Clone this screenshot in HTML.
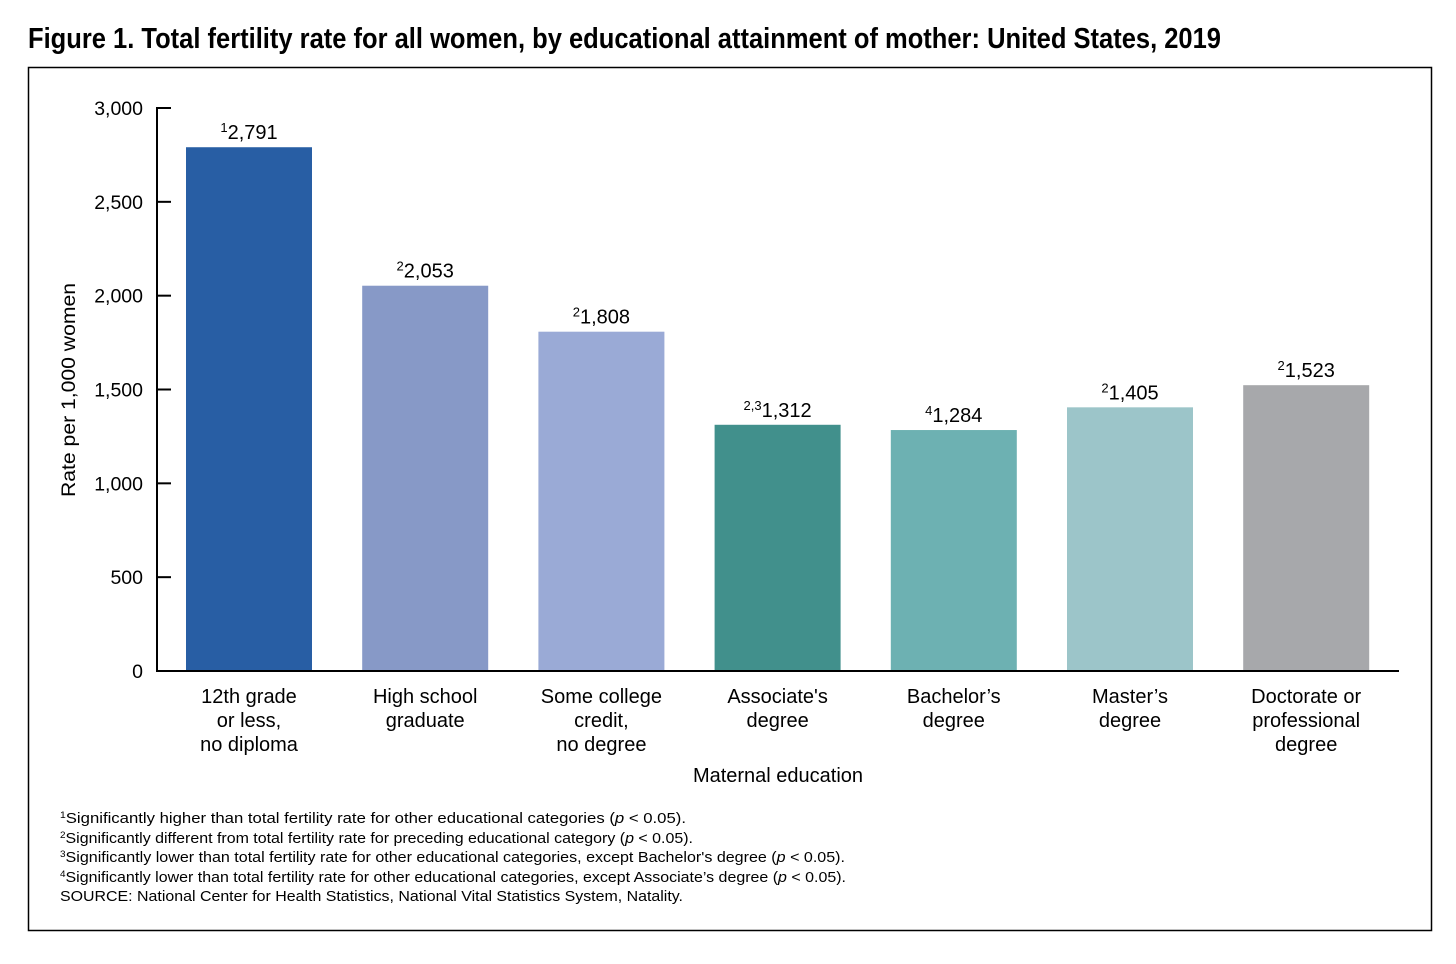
<!DOCTYPE html>
<html><head><meta charset="utf-8"><style>
body{margin:0;background:#fff;}
svg{display:block;font-family:"Liberation Sans",Arial,sans-serif;}
</style></head><body>
<svg id="chart" width="1456" height="964" viewBox="0 0 1456 964">
<text x="28" y="48" font-size="29" font-weight="bold" textLength="1193" lengthAdjust="spacingAndGlyphs">Figure 1. Total fertility rate for all women, by educational attainment of mother: United States, 2019</text>
<rect x="28.5" y="67.5" width="1403" height="863" fill="none" stroke="#000" stroke-width="1.5"/>
<g id="ticks"></g><g id="bars"></g>
<line x1="157" y1="107" x2="157" y2="672" stroke="#000" stroke-width="2"/>
<line x1="156" y1="671" x2="1399" y2="671" stroke="#000" stroke-width="2"/>
<text transform="translate(75,390) rotate(-90)" text-anchor="middle" font-size="19" textLength="214" lengthAdjust="spacingAndGlyphs">Rate per 1,000 women</text>
<text x="778" y="782" text-anchor="middle" font-size="20">Maternal education</text>
<g font-size="14.5" lengthAdjust="spacingAndGlyphs">
<text x="60" y="823" textLength="626" lengthAdjust="spacingAndGlyphs"><tspan font-size="9" dy="-5">1</tspan><tspan dy="5">Significantly higher than total fertility rate for other educational categories (</tspan><tspan font-style="italic">p</tspan> &lt; 0.05).</text>
<text x="60" y="843" textLength="633" lengthAdjust="spacingAndGlyphs"><tspan font-size="9" dy="-5">2</tspan><tspan dy="5">Significantly different from total fertility rate for preceding educational category (</tspan><tspan font-style="italic">p</tspan> &lt; 0.05).</text>
<text x="60" y="862" textLength="785" lengthAdjust="spacingAndGlyphs"><tspan font-size="9" dy="-5">3</tspan><tspan dy="5">Significantly lower than total fertility rate for other educational categories, except Bachelor's degree  (</tspan><tspan font-style="italic">p</tspan> &lt; 0.05).</text>
<text x="60" y="882" textLength="786" lengthAdjust="spacingAndGlyphs"><tspan font-size="9" dy="-5">4</tspan><tspan dy="5">Significantly lower than total fertility rate for other educational categories, except Associate’s degree (</tspan><tspan font-style="italic">p</tspan> &lt; 0.05).</text>
<text x="60" y="901" textLength="623" lengthAdjust="spacingAndGlyphs">SOURCE: National Center for Health Statistics, National Vital Statistics System, Natality.</text>
</g>
</svg>
<script>
const categories=[["12th grade","or less,","no diploma"],["High school","graduate"],["Some college","credit,","no degree"],["Associate's","degree"],["Bachelor’s","degree"],["Master’s","degree"],["Doctorate or","professional","degree"]];
const values=[2791,2053,1808,1312,1284,1405,1523];
const valueLabels=["2,791","2,053","1,808","1,312","1,284","1,405","1,523"];
const notes=["1","2","2","2,3","4","2","2"];
const tickValues=[0,500,1000,1500,2000,2500,3000];
const tickLabels=["0","500","1,000","1,500","2,000","2,500","3,000"];
const colors=["#285ea4","#8799c7","#9aaad6","#41908c","#6db1b2","#9cc5c9","#a7a8ab"];
const NS="http://www.w3.org/2000/svg";
const y=v=>671-v*563/3000;
const x=i=>186+i*176.2;
function mk(tag,attrs,parent){const e=document.createElementNS(NS,tag);for(const k in attrs)e.setAttribute(k,attrs[k]);parent.appendChild(e);return e;}
const tg=document.getElementById('ticks');
tickValues.forEach((v,i)=>{
 const l=mk('line',{x1:157,x2:171,y1:y(v),y2:y(v),stroke:'#000','stroke-width':2},tg);
 
 
 const t=mk('text',{x:143,y:y(v)+7,'text-anchor':'end','font-size':19.5},tg);
 t.textContent=tickLabels[i];
 
 
});
const bg=document.getElementById('bars');
values.forEach((v,i)=>{
 const r=mk('rect',{x:x(i),y:y(v),width:126,height:671-y(v),fill:colors[i]},bg);
 
 
 const t=mk('text',{x:x(i)+63,y:y(v)-8,'text-anchor':'middle','font-size':20},bg);
 
 
 const s=mk('tspan',{'font-size':13,dy:-7},t);s.textContent=notes[i];
 const s2=mk('tspan',{dy:7},t);s2.textContent=valueLabels[i];
 categories[i].forEach((line,j)=>{
  const c=mk('text',{x:x(i)+63,y:703+j*24,'text-anchor':'middle','font-size':20},bg);
  c.textContent=line;
  
  
 });
});
</script>
</body></html>
